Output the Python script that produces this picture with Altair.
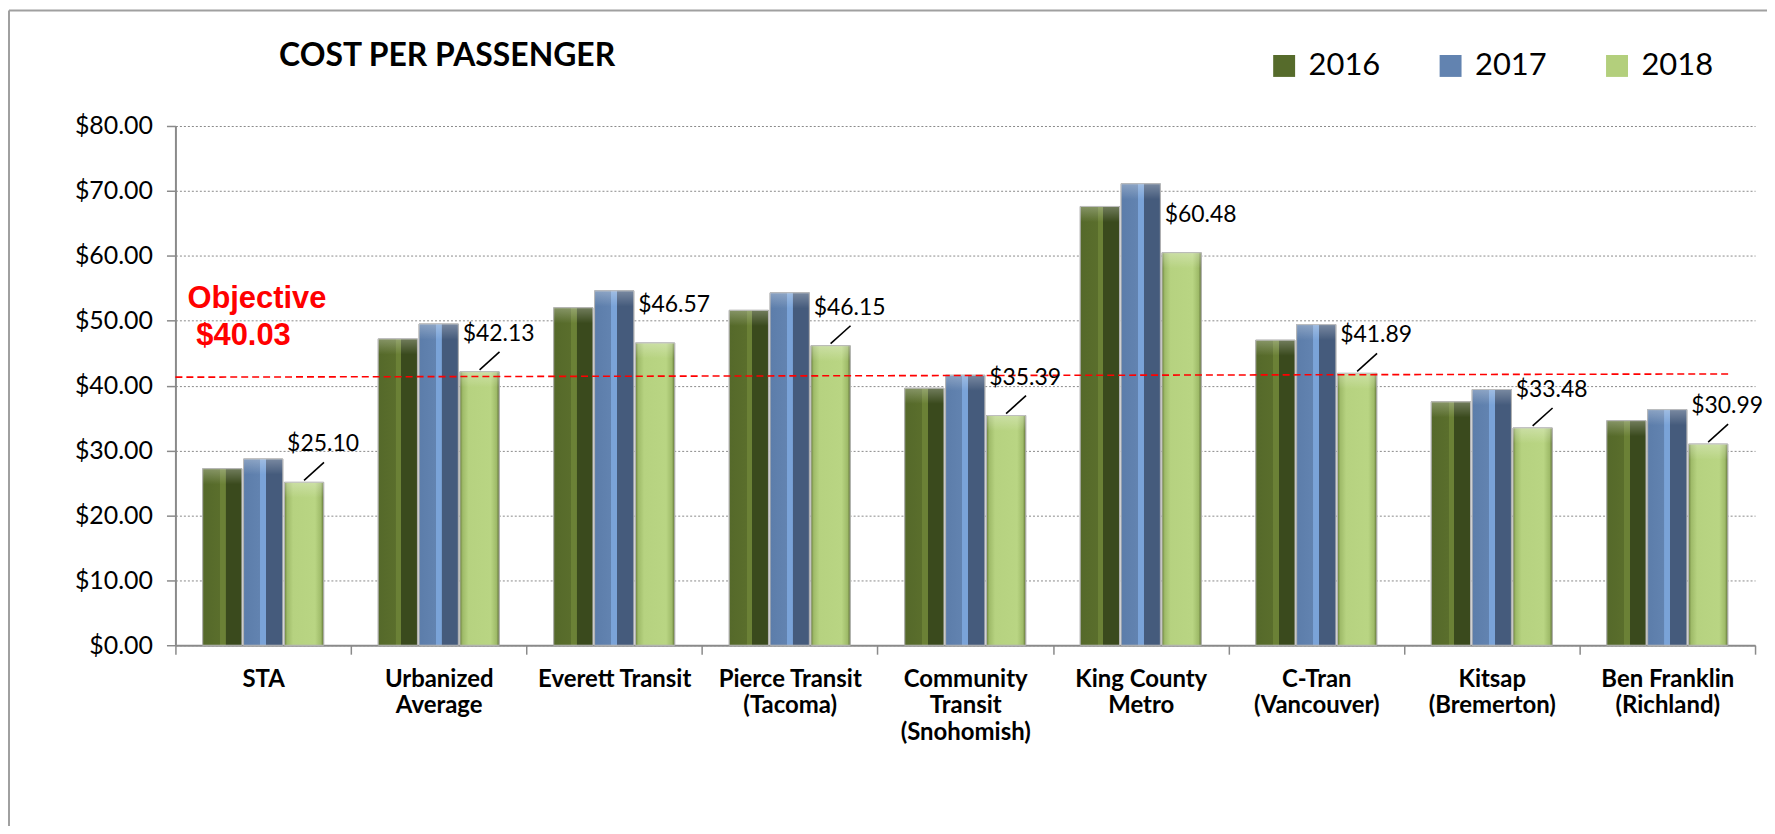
import altair as alt
import pandas as pd

agencies = ["STA", "Urbanized\nAverage", "Everett Transit", "Pierce Transit\n(Tacoma)",
            "Community\nTransit\n(Snohomish)", "King County\nMetro", "C-Tran\n(Vancouver)",
            "Kitsap\n(Bremerton)", "Ben Franklin\n(Richland)"]
years = ["2016", "2017", "2018"]
v2016 = [27.2, 47.2, 52.0, 51.6, 39.6, 67.6, 47.0, 37.5, 34.6]
v2017 = [28.7, 49.5, 54.6, 54.3, 41.6, 71.1, 49.4, 39.4, 36.3]
v2018 = [25.10, 42.13, 46.57, 46.15, 35.39, 60.48, 41.89, 33.48, 30.99]
y_ticks = [0, 10, 20, 30, 40, 50, 60, 70, 80]
objective_value = 40.03
objective_drawn = [41.3, 41.8]  # where the hand-drawn dashed line sits
no_leader = ["Everett Transit", "King County\nMetro"]

rows = []
for yr, vals in zip(years, [v2016, v2017, v2018]):
    for a, v in zip(agencies, vals):
        rows.append({"agency": a, "year": yr, "value": v})
df = pd.DataFrame(rows)
df18 = df[df.year == "2018"].copy()
df18["label"] = df18["value"].map(lambda v: f"${v:.2f}")
df_lead = df18[~df18.agency.isin(no_leader)]

W, H = 1585, 521
PL, PT = 168, 117

x_enc = alt.X("agency:N", sort=agencies, title=None,
              scale=alt.Scale(paddingInner=0, paddingOuter=0),
              axis=alt.Axis(labelAngle=0, tickBand="extent", tickSize=9, tickColor="#8a8a8a",
                            tickWidth=1.5, domainColor="#8a8a8a", domainWidth=2,
                            labelFont="Lato", labelFontWeight="bold", labelFontSize=24,
                            labelColor="#000", labelLineHeight=27, labelPadding=13,
                            labelBaseline="top", labelLimit=400,
                            labelExpr="isValid(datum.value) ? split(datum.value, '\\n') : ''"))
xo_enc = alt.XOffset("year:N", scale=alt.Scale(domain=years, paddingInner=0.04,
                                               paddingOuter=0.667))
y_enc = alt.Y("value:Q", title=None,
              scale=alt.Scale(domain=[0, 80], nice=False),
              axis=alt.Axis(values=y_ticks, format="$.2f", labelFont="Lato", labelFontSize=25,
                            labelColor="#000", labelPadding=14, tickSize=9, tickColor="#8a8a8a",
                            tickWidth=1.5, domainColor="#8a8a8a", domainWidth=2,
                            grid=True, gridColor="#8a8a8a", gridDash=[2, 2], gridWidth=1))

base = alt.Chart(df).mark_bar(stroke="#b4b4b4", strokeWidth=1).encode(
    x=x_enc, xOffset=xo_enc, y=y_enc,
    color=alt.Color("year:N", scale=alt.Scale(domain=years,
                                              range=["#566b2b", "#6283b0", "#b3cf7c"]),
                    legend=alt.Legend(title=None, orient="none", direction="horizontal",
                                      legendX=1097, legendY=-76, symbolType="square",
                                      symbolSize=484, symbolStrokeWidth=0, labelFont="Lato",
                                      labelFontSize=31, labelColor="#000", labelOffset=9,
                                      columnPadding=55, symbolOpacity=1))
)

def grad(stops):
    return alt.LinearGradient(gradient="linear", x1=0, x2=1, y1=0, y2=0,
                              stops=[alt.GradientStop(offset=o, color=c) for o, c in stops])

grads = {
    "2016": [(0, "#55692a"), (0.44, "#5a6e2c"), (0.45, "#6b8136"), (0.58, "#6b8136"),
             (0.59, "#3a4a1d"), (1, "#3a4a1d")],
    "2017": [(0, "#5c7daa"), (0.42, "#6283b0"), (0.43, "#7aa3d8"), (0.57, "#7aa3d8"),
             (0.58, "#455b7c"), (1, "#455b7c")],
    "2018": [(0, "#6a7f3c"), (0.07, "#9fbb69"), (0.22, "#b6d280"), (0.78, "#b9d583"),
             (0.93, "#9fbb69"), (1, "#5c6e33")],
}
overlays = []
for yr in years:
    overlays.append(
        alt.Chart(df[df.year == yr]).mark_bar(fill=grad(grads[yr]), stroke="#b4b4b4",
                                               strokeWidth=1).encode(
            x=alt.X("agency:N", sort=agencies), xOffset=alt.XOffset("year:N"), y="value:Q")
    )
    overlays.append(
        alt.Chart(df[df.year == yr]).mark_bar(
            fill=alt.LinearGradient(gradient="linear", x1=0, x2=0, y1=0, y2=1,
                                    stops=[alt.GradientStop(offset=0, color="rgba(255,255,255,0.28)"),
                                           alt.GradientStop(offset=1, color="rgba(255,255,255,0)")]),
            strokeWidth=0).encode(
            x=alt.X("agency:N", sort=agencies), xOffset=alt.XOffset("year:N"),
            y="value:Q", y2=alt.Y2("bevel:Q")).transform_calculate(bevel="datum.value - 2.4")
    )

labels = alt.Chart(df18).mark_text(align="left", baseline="middle", dx=-17, dy=-38,
                                   font="Lato", fontSize=23, color="#000").encode(
    x=alt.X("agency:N", sort=agencies), xOffset=alt.XOffset("year:N"), y="value:Q", text="label:N")

leaders = alt.Chart(df_lead).mark_point(shape="M0,-0.1L1,-1", size=1600, filled=False,
                                        stroke="#000", strokeWidth=1.6, opacity=1).encode(
    x=alt.X("agency:N", sort=agencies), xOffset=alt.XOffset("year:N"), y="value:Q")

obj_line = alt.Chart(pd.DataFrame({"a": [0]})).mark_rule(
    color="#ff0000", strokeDash=[7, 4], strokeWidth=1.6).encode(
    x=alt.value(0), x2=alt.value(1560),
    y=alt.datum(objective_drawn[0]), y2=alt.datum(objective_drawn[1]))

obj_text = alt.Chart(pd.DataFrame({"t": ["Objective", f"${objective_value:.2f}"],
                                   "yv": [53.3, 47.6], "xp": [12, 21]})).mark_text(
    align="left", baseline="middle", font="Liberation Sans", fontWeight="bold",
    fontSize=31, color="#ff0000").encode(
    x=alt.X("xp:Q", scale=None), y="yv:Q", text="t:N")

title = alt.Chart(pd.DataFrame({"t": ["COST PER PASSENGER"]})).mark_text(
    align="left", baseline="middle", font="Lato", fontWeight="bold", fontSize=32,
    color="#000").encode(x=alt.value(104), y=alt.value(-70), text="t:N")

frame_left = alt.Chart(pd.DataFrame({"a": [0]})).mark_rule(color="#a0a0a0", strokeWidth=2).encode(
    x=alt.value(-PL + 1), y=alt.value(-PT + 1), y2=alt.value(H + 200))
frame_top = alt.Chart(pd.DataFrame({"a": [0]})).mark_rule(color="#a0a0a0", strokeWidth=2).encode(
    x=alt.value(-PL + 1), x2=alt.value(W + 20), y=alt.value(-PT + 1))

chart = alt.layer(base, *overlays, obj_line, labels, leaders, obj_text, title,
                  frame_left, frame_top).properties(
    width=W, height=H, autosize=alt.AutoSizeParams(type="none"),
    padding={"left": PL, "top": PT, "right": 12, "bottom": 180}
).configure_view(stroke=None)

chart.save("out.html", embed_options={"renderer": "svg", "actions": False})
